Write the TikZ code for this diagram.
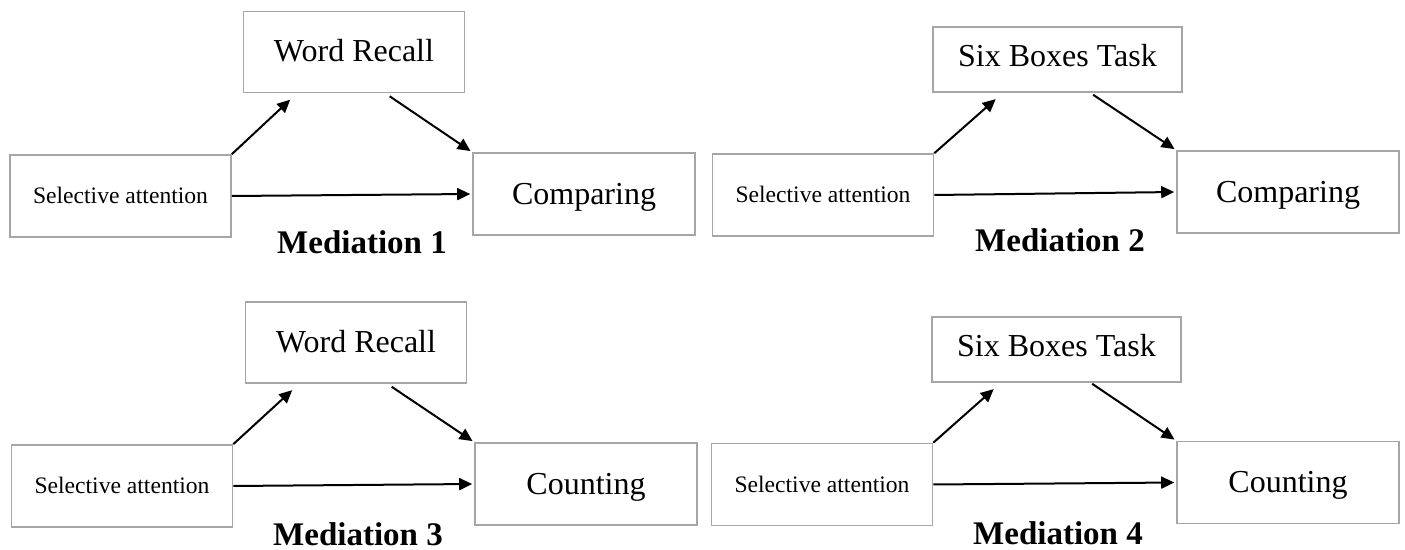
\documentclass[tikz,border=0pt]{standalone}
\usepackage{fontspec}
\setmainfont{Liberation Serif}
\usepackage{xcolor}
\usepackage{tikz}
\usetikzlibrary{positioning, arrows.meta, calc}
\definecolor{boxgray}{HTML}{A6A6A6}
\definecolor{arrowblack}{HTML}{000000}

\begin{document}
\begin{tikzpicture}[
        x=0.5pt, y=-0.5pt,
        box/.style={rectangle, draw=boxgray, line width=0.8pt,
                fill=white, inner sep=0pt, align=center, text depth=0pt},
        predictor/.style={box, minimum width=110.5pt, minimum height=41pt,
                text height=8pt, font=\fontsize{11.8}{14}\selectfont},
        mediatorWR/.style={box, minimum width=110.5pt, minimum height=40.5pt,
                text height=10pt, font=\fontsize{16}{19}\selectfont},
        mediatorSB/.style={box, minimum width=124.5pt, minimum height=32.5pt,
                text height=7.5pt, font=\fontsize{16}{19}\selectfont},
        outcome/.style={box, minimum width=111pt, minimum height=41pt,
                text height=10.5pt, font=\fontsize{16}{19}\selectfont},
        arr/.style={-{Triangle[length=6.5pt, width=6pt]}, arrowblack,
                line width=1pt, shorten >=1pt},
        medlbl/.style={font=\fontsize{16.5}{19}\selectfont\bfseries,
                inner sep=0pt},
    ]
    \useasboundingbox (0,0) rectangle (1405,550);

    % Mediation 1
    \node[predictor] (sel1) at (120.5, 196) {Selective attention};
    \node[mediatorWR] (med1) at (354, 52) {Word Recall};
    \node[outcome] (out1) at (584, 194) {Comparing};
    \node[medlbl] (lbl1) at (362, 242) {Mediation 1};
    \coordinate (med1in) at ($(med1.south west)+(49,5)$);
    \coordinate (med1out) at ($(med1.south west)+(147,3)$);
    \draw[arr] (sel1.north east) -- (med1in);
    \draw[arr] (med1out) -- (out1.north west);
    \draw[arr] (sel1.east) -- (out1.west);

    % Mediation 2
    \node[predictor] (sel2) at (823, 195) {Selective attention};
    \node[mediatorSB] (med2) at (1057.5, 59.5) {Six Boxes Task};
    \node[outcome] (out2) at (1288, 192) {Comparing};
    \node[medlbl] (lbl2) at (1060, 240) {Mediation 2};
    \coordinate (med2in) at ($(med2.south west)+(65,5)$);
    \coordinate (med2out) at ($(med2.south west)+(161,2)$);
    \draw[arr] (sel2.north east) -- (med2in);
    \draw[arr] (med2out) -- (out2.north west);
    \draw[arr] (sel2.east) -- (out2.west);

    % Mediation 3
    \node[predictor] (sel3) at (122, 486) {Selective attention};
    \node[mediatorWR] (med3) at (356, 342.5) {Word Recall};
    \node[outcome] (out3) at (586, 484) {Counting};
    \node[medlbl] (lbl3) at (358, 534) {Mediation 3};
    \coordinate (med3in) at ($(med3.south west)+(49,5)$);
    \coordinate (med3out) at ($(med3.south west)+(147,3)$);
    \draw[arr] (sel3.north east) -- (med3in);
    \draw[arr] (med3out) -- (out3.north west);
    \draw[arr] (sel3.east) -- (out3.west);

    % Mediation 4
    \node[predictor] (sel4) at (822, 484.5) {Selective attention};
    \node[mediatorSB] (med4) at (1056.5, 349.5) {Six Boxes Task};
    \node[outcome] (out4) at (1288, 482.5) {Counting};
    \node[medlbl] (lbl4) at (1058, 533) {Mediation 4};
    \coordinate (med4in) at ($(med4.south west)+(64,5)$);
    \coordinate (med4out) at ($(med4.south west)+(161,1)$);
    \draw[arr] (sel4.north east) -- (med4in);
    \draw[arr] (med4out) -- (out4.north west);
    \draw[arr] (sel4.east) -- (out4.west);
\end{tikzpicture}
\end{document}
